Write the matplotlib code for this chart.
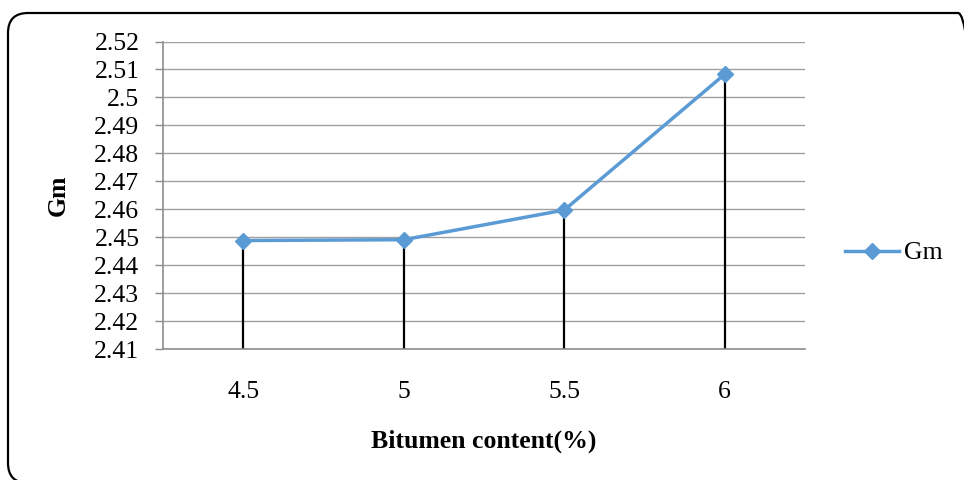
import matplotlib.pyplot as plt
from matplotlib.patches import FancyBboxPatch
from matplotlib.transforms import IdentityTransform

# Bulk specific gravity against bitumen content
bitumen = ['4.5', '5', '5.5', '6']
gm = [2.4488, 2.4491, 2.4597, 2.5083]
yticks = [2.41, 2.42, 2.43, 2.44, 2.45, 2.46, 2.47, 2.48, 2.49, 2.50, 2.51, 2.52]
ytick_labels = ['2.41', '2.42', '2.43', '2.44', '2.45', '2.46', '2.47', '2.48',
                '2.49', '2.5', '2.51', '2.52']

plt.rcParams['font.family'] = ['Liberation Serif', 'DejaVu Serif']

fig = plt.figure(figsize=(9.64, 4.8), dpi=100)
ax = fig.add_axes([163 / 964, 1 - 349 / 480, 642 / 964, 307.5 / 480])

x = list(range(len(bitumen)))
blue = '#5B9BD5'

# drop lines from each point to the category axis
ax.vlines(x, yticks[0], gm, colors='black', linewidth=1.6, zorder=2)
ax.plot(x, gm, color=blue, linewidth=2.5, marker='D', markersize=8,
        label='Gm', zorder=3)

ax.set_xlim(-0.5, len(bitumen) - 0.5)
ax.set_ylim(yticks[0], yticks[-1])
ax.set_xticks(x)
ax.set_xticklabels(bitumen)
ax.set_yticks(yticks)
ax.set_yticklabels(ytick_labels)

ax.tick_params(axis='x', length=0, pad=23, labelsize=18.5)
ax.tick_params(axis='y', length=6, width=1, color='#8C8C8C', pad=11, labelsize=18.5)

ax.grid(axis='y', color='#A0A0A0', linewidth=1)
ax.set_axisbelow(True)
for side in ['top', 'right']:
    ax.spines[side].set_visible(False)
for side in ['left', 'bottom']:
    ax.spines[side].set_color('#8C8C8C')
    ax.spines[side].set_linewidth(1.2)

ax.set_xlabel('Bitumen content(%)', fontsize=18.5, fontweight='bold')
ax.set_ylabel('Gm', fontsize=18.5, fontweight='bold')
ax.xaxis.set_label_coords(0.5, (349 - 441) / 307.5)
ax.xaxis.label.set_va('center')
ax.yaxis.set_label_coords((58 - 163) / 642, 0.5)
ax.yaxis.label.set_va('center')

ax.legend(loc='center left', bbox_to_anchor=(845 / 964, 1 - 253 / 480),
          bbox_transform=fig.transFigure, frameon=False, fontsize=18.5,
          borderpad=0, borderaxespad=0, handlelength=2.1, handletextpad=0.2)

# rounded frame around the whole chart
frame = FancyBboxPatch((8, -3), 970, 470, boxstyle='round,pad=0,rounding_size=20',
                       transform=IdentityTransform(), fill=False,
                       edgecolor='black', linewidth=1.6)
fig.patches.append(frame)

fig.savefig('out.png', dpi=100, facecolor='white')
